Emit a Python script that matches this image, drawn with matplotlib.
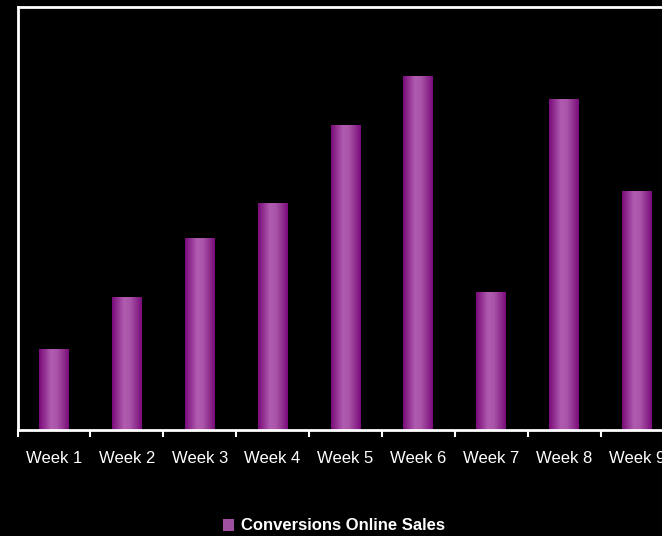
import numpy as np
import matplotlib
matplotlib.use("Agg")
import matplotlib.pyplot as plt
from matplotlib.colors import LinearSegmentedColormap

# Data (no y scale shown)
weeks = ["Week 1", "Week 2", "Week 3", "Week 4", "Week 5",
         "Week 6", "Week 7", "Week 8", "Week 9"]
conversions = [81, 133, 192, 227, 305, 354, 138, 331, 239]
series_name = "Conversions Online Sales"

plt.rcParams["font.family"] = ["Liberation Sans", "DejaVu Sans"]

fig = plt.figure(figsize=(6.62, 5.36), dpi=100, facecolor="black")
# axes runs a little past the right edge of the image, like the original
ax = fig.add_axes([17.5 / 662, 106 / 536, 656 / 662, 423 / 536])
ax.set_facecolor("black")

# purple cylinder-like gradient across each bar
grad_cmap = LinearSegmentedColormap.from_list(
    "purp", [(0.0, "#7a0a7a"), (0.15, "#8e2a8e"), (0.4, "#b05cb0"),
             (0.6, "#aa55aa"), (0.85, "#8c2a8c"), (1.0, "#7a0a7a")])
grad = np.linspace(0, 1, 64).reshape(1, -1)

x = np.arange(len(weeks))
bar_w = 0.41
bars = ax.bar(x, conversions, width=bar_w, color="#a050a0", label=series_name)
for b in bars:
    x0, y0 = b.get_x(), b.get_y()
    im = ax.imshow(grad, cmap=grad_cmap, aspect="auto",
                   extent=[x0, x0 + b.get_width(), y0, y0 + b.get_height()],
                   zorder=b.get_zorder() + 0.1, interpolation="bicubic")
    im.set_clip_path(b)

ax.set_xlim(-0.5, len(weeks) - 0.5)
ax.set_ylim(0, 423)

for side in ["left", "top", "bottom", "right"]:
    ax.spines[side].set_color("white")
    ax.spines[side].set_linewidth(2)

ax.set_yticks([])
ax.set_xticks(np.arange(len(weeks) + 1) - 0.5)
ax.set_xticklabels([])
ax.set_xticks(x, minor=True)
ax.set_xticklabels(weeks, minor=True, color="white", fontsize=12)
ax.tick_params(axis="x", which="major", color="white", length=5, width=1.5,
               direction="out")
ax.tick_params(axis="x", which="minor", length=0, pad=15)

leg = fig.legend(handles=[bars], labels=[series_name], loc="center",
                 bbox_to_anchor=(334 / 662, 1 - 526 / 536), frameon=False,
                 handlelength=0.7, handleheight=0.7, handletextpad=0.4,
                 prop={"weight": "bold", "size": 12})
for t in leg.get_texts():
    t.set_color("white")

fig.savefig("out.png", dpi=100, facecolor="black")
